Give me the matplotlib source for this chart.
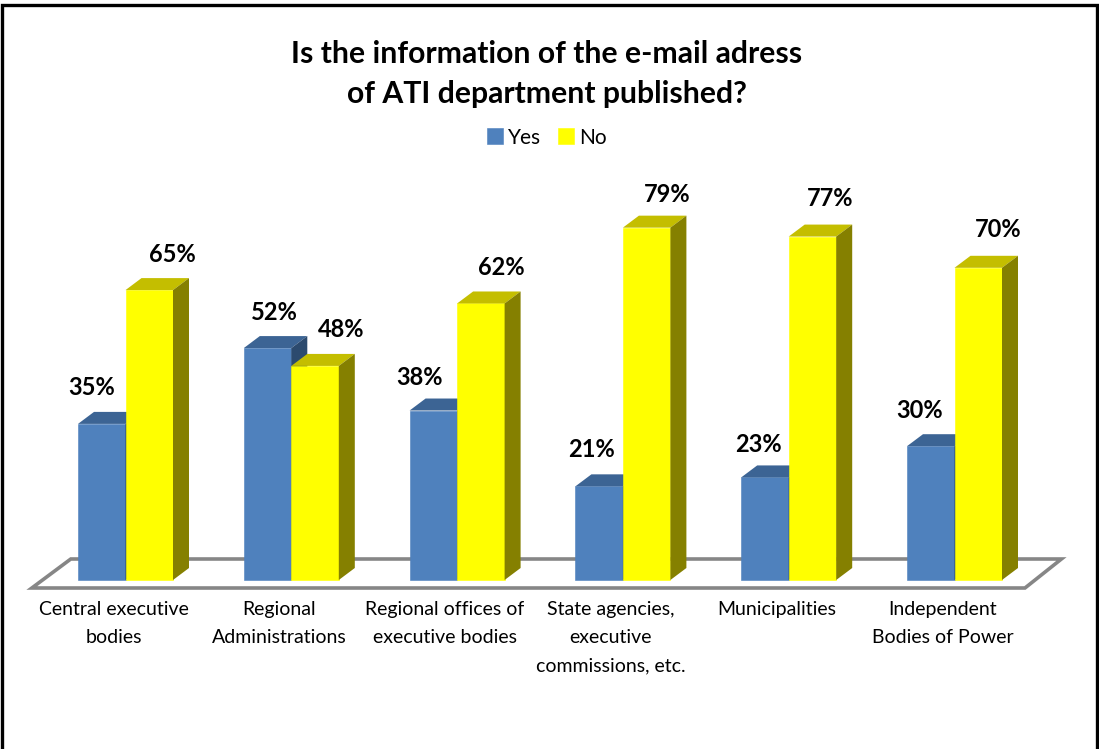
import matplotlib
matplotlib.use("Agg")
import matplotlib.pyplot as plt
from matplotlib.patches import Polygon

plt.rcParams['font.family'] = ['Lato', 'DejaVu Sans']

categories = [
    "Central executive\nbodies",
    "Regional\nAdministrations",
    "Regional offices of\nexecutive bodies",
    "State agencies,\nexecutive\ncommissions, etc.",
    "Municipalities",
    "Independent\nBodies of Power",
]
yes_values = [35, 52, 38, 21, 23, 30]
no_values = [65, 48, 62, 79, 77, 70]

# pixels per category / per percent, measured on the picture
W, H = 1099, 749
X_PX = 165.8
Y_PX = 4.46
X0 = 125.5
Y0 = 580

bar_w = 47.5 / X_PX
dx = 16 / X_PX
dy = 12 / Y_PX

# label shift from the bar centre, in pixels
yes_shift = [-10, 7, -14, -8, -7, -11]
no_shift = [23, 26, 20, 21, 18, 20]
yes_lift = [36, 36, 33, 37, 33, 36]
no_lift = [36, 36, 36, 33, 38, 38]

fig = plt.figure(figsize=(W / 100, H / 100), dpi=100)
ax = fig.add_axes([0, 0, 1, 1])
ax.set_xlim(-X0 / X_PX, (W - X0) / X_PX)
ax.set_ylim(-(H - Y0) / Y_PX, Y0 / Y_PX)
ax.axis("off")

# frame, open at the bottom
ax.plot([0.002, 0.002, 0.998, 0.998], [0, 0.9935, 0.9935, 0],
        transform=ax.transAxes, color="black", lw=2.4, solid_joinstyle="miter")

# floor
n = len(categories)
front = -8 / Y_PX
back = 21 / Y_PX
ax.add_patch(Polygon([(-0.565, front), (5.425, front), (5.645, back), (-0.33, back)],
                     closed=True, fc="white", ec="#868686", lw=2.6, zorder=1))


def draw_bars(x, values, face, top, side, z):
    bars = ax.bar(x, values, width=bar_w, color=face, edgecolor=face, lw=0.4, zorder=z)
    for xi, v in zip(x, values):
        l, r = xi - bar_w / 2, xi + bar_w / 2
        ax.add_patch(Polygon([(l, v), (r, v), (r + dx, v + dy), (l + dx, v + dy)],
                             closed=True, fc=top, ec="none", zorder=z))
        ax.add_patch(Polygon([(r, 0), (r + dx, dy), (r + dx, v + dy), (r, v)],
                             closed=True, fc=side, ec="none", zorder=z))
    return bars


xs = list(range(n))
x_yes = [x - bar_w / 2 for x in xs]
x_no = [x + bar_w / 2 for x in xs]
h_yes = draw_bars(x_yes, yes_values, "#4F81BD", "#3C6494", "#2C4A6E", 3)
h_no = draw_bars(x_no, no_values, "#FFFF00", "#C4BE00", "#858000", 4)

for x, v, s, lift in zip(x_yes, yes_values, yes_shift, yes_lift):
    ax.text(x + s / X_PX, v + lift / Y_PX, f"{v}%", ha="center", va="center",
            fontsize=17, fontweight="bold", color="black", zorder=6)
for x, v, s, lift in zip(x_no, no_values, no_shift, no_lift):
    ax.text(x + s / X_PX, v + lift / Y_PX, f"{v}%", ha="center", va="center",
            fontsize=17, fontweight="bold", color="black", zorder=6)

for x, label in zip(xs, categories):
    ax.text(x - 12 / X_PX, -21 / Y_PX, label, ha="center", va="top",
            fontsize=14, color="black", linespacing=1.79)

fig.text(546.5 / W, 1 - 74 / H, "Is the information of the e-mail adress\nof ATI department published?",
         ha="center", va="center", fontsize=21.7, fontweight="bold", linespacing=1.49)

fig.legend([h_yes, h_no], ["Yes", "No"], ncol=2, frameon=False,
           loc="center", bbox_to_anchor=(546.5 / W, 1 - 137.5 / H), fontsize=15,
           handlelength=0.77, handleheight=0.77, handletextpad=0.25, columnspacing=0.8)

fig.savefig("out.png", dpi=100)
